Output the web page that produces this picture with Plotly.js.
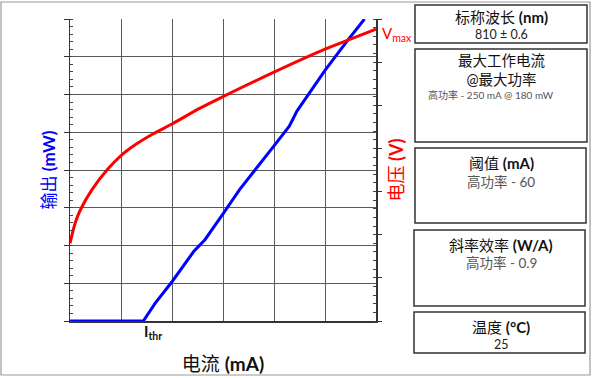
<!DOCTYPE html>
<html>
<head>
<meta charset="utf-8">
<script src="https://cdn.plot.ly/plotly-3.0.1.min.js"></script>
<style>html,body{margin:0;padding:0;background:#fff;}#chart{width:592px;height:378px;}</style>
</head>
<body>
<div id="chart"></div>
<script>
// ---- data ----
const currentV = [0, 4, 8, 17, 29, 40, 52, 65, 80, 102, 120, 160, 200, 220, 240];           // mA
const voltage  = [0.54, 0.68, 0.77, 0.91, 1.05, 1.15, 1.23, 1.30, 1.37, 1.48, 1.56, 1.73, 1.89, 1.96, 2.03]; // V
const currentP = [0, 57.5, 67, 80, 97, 106, 120, 133, 160, 172, 178, 200, 217, 231];        // mA
const power    = [0, 0, 12, 26, 46, 54, 71, 87, 116, 129, 139, 166, 185, 200];              // mW
const thresholdCurrent = 65;

const boxTitles = ['标称波长 <b>(nm)</b>', '最大工作电流<br>@最大功率', '阈值 <b>(mA)</b>', '斜率效率 <b>(W/A)</b>', '温度 <b>(°C)</b>'];
const boxValues = ['810 ± 0.6', '高功率 - 250 mA @ 180 mW', '高功率 - 60', '高功率 - 0.9', '25'];

// ---- layout helpers (pixel -> paper) ----
const L = 70, R = 376, T = 19, B = 321;
const PX = x => (x - L) / (R - L);
const PY = y => (B - y) / (B - T);
const FONT = 'Lato, "Noto Sans CJK SC", sans-serif';

const boxes = [
  [415, 5, 587, 43],
  [415, 49, 587, 142],
  [415, 148, 586, 223],
  [414, 230, 585, 306],
  [414, 312, 585, 353]
];
const titleY = [17, 70, 163, 245, 327];
const titleSize = [15, 14.5, 15, 15, 15];
const valueY = [34, 95, 182, 263, 344];
const valueX = [501, 491, 501, 501, 501];
const valueSize = [12.5, 10, 13.5, 13.5, 12.5];
const valueColor = ['#222', '#555', '#555', '#555', '#222'];

const shapes = [{type:'rect', xref:'paper', yref:'paper', x0:PX(1), x1:PX(590), y0:PY(375), y1:PY(2),
  line:{color:'#9a9a9a', width:1.2}, layer:'below'}];
boxes.forEach(b => shapes.push({type:'rect', xref:'paper', yref:'paper',
  x0:PX(b[0]), x1:PX(b[2]), y0:PY(b[3]), y1:PY(b[1]), line:{color:'#333', width:1.5}}));

const annotations = [];
boxTitles.forEach((t, i) => {
  annotations.push({xref:'paper', yref:'paper', x:PX(501), y:PY(titleY[i]), xanchor:'center', yanchor:'middle',
    text:t, showarrow:false, font:{family:FONT, size:titleSize[i], color:'#111'}});
  annotations.push({xref:'paper', yref:'paper', x:PX(valueX[i]), y:PY(valueY[i]), xanchor:'center', yanchor:'middle',
    text:boxValues[i], showarrow:false, font:{family:FONT, size:valueSize[i], color:valueColor[i]}});
});
annotations.push({xref:'x', yref:'paper', x:thresholdCurrent, y:PY(332), xanchor:'center', yanchor:'middle',
  text:'<b>I<sub>thr</sub></b>', showarrow:false, font:{family:FONT, size:15, color:'#111'}});
annotations.push({xref:'paper', yref:'paper', x:PX(380), y:PY(34), xanchor:'left', yanchor:'middle',
  text:'V<sub>max</sub>', showarrow:false, font:{family:FONT, size:15, color:'#ff0000'}});

const traces = [
  {x: currentV, y: voltage, yaxis:'y2', mode:'lines', line:{color:'#ff0000', width:3, shape:'spline', smoothing:0.8}, hoverinfo:'skip'},
  {x: currentP, y: power, yaxis:'y', mode:'lines', line:{color:'#0000ff', width:3}, hoverinfo:'skip'}
];

const layout = {
  width:592, height:378, showlegend:false,
  paper_bgcolor:'#fff', plot_bgcolor:'#fff',
  margin:{l:L, r:592-R, t:T, b:378-B, pad:0},
  xaxis:{range:[0,240], dtick:40, showgrid:true, gridcolor:'#5a5a5a', gridwidth:1, zeroline:false,
    showline:true, linecolor:'#333', linewidth:1.5, ticks:'', showticklabels:false, fixedrange:true,
    title:{text:'电流 <b>(mA)</b>', font:{family:FONT, size:19, color:'#111'}, standoff:36}},
  yaxis:{range:[0,200], dtick:25, showgrid:true, gridcolor:'#5a5a5a', gridwidth:1, zeroline:false,
    showline:true, linecolor:'#333', linewidth:1.5, ticks:'outside', ticklen:5, tickcolor:'#333', tickwidth:1,
    minor:{dtick:5, ticks:'inside', ticklen:3, tickcolor:'#444', showgrid:false},
    showticklabels:false, fixedrange:true,
    title:{text:'输出 <b>(mW)</b>', font:{family:FONT, size:17, color:'#0000ff'}, standoff:3}},
  yaxis2:{range:[0,2.1], dtick:0.3, overlaying:'y', side:'right', showgrid:false, zeroline:false,
    showline:true, linecolor:'#333', linewidth:1.5, ticks:'outside', ticklen:4, tickcolor:'#333', tickwidth:1,
    minor:{dtick:0.06, ticks:'inside', ticklen:3, tickcolor:'#444', showgrid:false},
    showticklabels:false, fixedrange:true,
    title:{text:'电压 <b>(V)</b>', font:{family:FONT, size:18, color:'#ff0000'}, standoff:10}},
  shapes: shapes,
  annotations: annotations
};

Plotly.newPlot('chart', traces, layout, {displayModeBar:false, staticPlot:true});
</script>
</body>
</html>
